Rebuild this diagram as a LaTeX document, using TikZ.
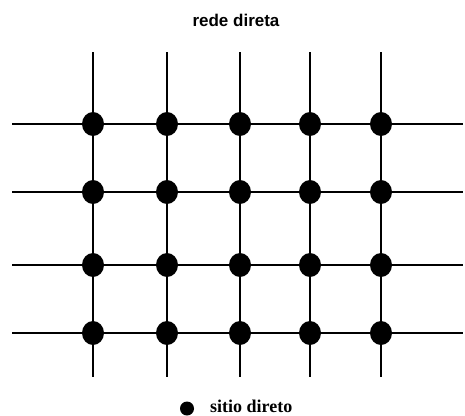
\documentclass[tikz,border=0pt]{standalone}
\usepackage{fontspec}
\usetikzlibrary{positioning,shapes.geometric}
\newfontfamily\titlefont{Liberation Sans}
\newfontfamily\keyfont{Liberation Serif}
\begin{document}
\begin{tikzpicture}[x=1pt,y=-1pt,
 site/.style={ellipse,fill=black,inner sep=0pt,minimum width=22pt,minimum height=24pt},
 vline/.style={line width=2.4pt},
 hline/.style={line width=2pt}]
 \useasboundingbox (0,0) rectangle (465,415);
 \node[anchor=base,inner sep=0pt] (title) at (236,26.5)
  {\titlefont\bfseries\fontsize{17}{20}\selectfont rede direta};
 \foreach \x [count=\i] in {93,167,240,310,381} {
  \coordinate (t\i) at (\x,52);
  \coordinate (b\i) at (\x,377);
  \draw[vline] (t\i) -- (b\i);
 }
 \foreach \y [count=\j] in {124,192,265,333} {
  \coordinate (l\j) at (12,\y);
  \coordinate (r\j) at (463,\y);
  \draw[hline] (l\j) -- (r\j);
 }
 \foreach \i in {1,...,5}
  \foreach \j in {1,...,4}
   \node[site] (s\i\j) at (t\i |- l\j) {};
 \node[site,minimum width=14pt,minimum height=14pt] (key) at (187,408.5) {};
 \node[anchor=base west,inner sep=0pt] (keytext) at (210,412.5)
  {\keyfont\bfseries\fontsize{18}{20}\selectfont sitio direto};
\end{tikzpicture}
\end{document}
